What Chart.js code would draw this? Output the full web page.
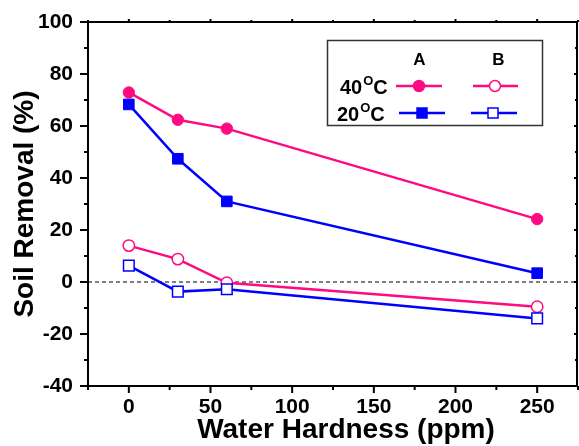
<!DOCTYPE html>
<html>
<head>
<meta charset="utf-8">
<script src="https://cdn.jsdelivr.net/npm/chart.js@4.4.1/dist/chart.umd.min.js"></script>
<style>
  html, body { margin: 0; padding: 0; background: #fff; overflow: hidden; }
  #wrap { width: 579px; height: 446px; position: relative; }
  canvas { display: block; }
</style>
</head>
<body>
<div id="wrap"><canvas id="chart"></canvas></div>
<script>
// Water hardness (ppm) and soil removal (%)
const hardness = [0, 30, 60, 250];
const removalA40 = [72.9, 62.4, 59.0, 24.2];
const removalA20 = [68.3, 47.4, 31.0, 3.4];
const removalB40 = [14.0, 8.8, -0.3, -9.5];
const removalB20 = [6.3, -3.7, -2.8, -14.0];

const xTickValues = [0, 50, 100, 150, 200, 250];
const yTickValues = [-40, -20, 0, 20, 40, 60, 80, 100];

const PINK = "#ff0a80";
const BLUE = "#0000ff";
const FONT = "'Liberation Sans', Arial, sans-serif";

Chart.defaults.font.family = FONT;
Chart.defaults.font.weight = "bold";
Chart.defaults.color = "#000";

function points(ys) {
    return hardness.map((x, i) => ({ x: x, y: ys[i] }));
}

function series(label, ys, color, style, filled) {
    return {
        label: label,
        data: points(ys),
        borderColor: color,
        backgroundColor: color,
        borderWidth: 2.5,
        pointStyle: style,
        pointRadius: style === "rect" ? 7.5 : 5.7,
        pointBorderWidth: filled ? 1 : 1.5,
        pointBackgroundColor: filled ? color : "#fff",
        pointBorderColor: color,
        showLine: true,
        tension: 0,
    };
}

// frame, tick marks, zero line, x title and the legend box
const decorations = {
    id: "decorations",
    beforeDatasetsDraw(chart) {
        const { ctx, chartArea: a } = chart;
        const y0 = chart.scales.y.getPixelForValue(0);
        ctx.save();
        ctx.strokeStyle = "#000";
        ctx.lineWidth = 1;
        ctx.setLineDash([4, 3]);
        ctx.beginPath();
        ctx.moveTo(a.left, y0);
        ctx.lineTo(a.right, y0);
        ctx.stroke();
        ctx.restore();
    },
    afterDraw(chart) {
        const { ctx, chartArea: a } = chart;
        const xs = chart.scales.x, ys = chart.scales.y;
        ctx.save();
        ctx.strokeStyle = "#000";
        ctx.lineWidth = 2;
        ctx.strokeRect(a.left, a.top, a.right - a.left - 1, a.bottom - a.top);

        ctx.beginPath();
        for (let v = -25; v <= 275; v += 25) {
            const px = xs.getPixelForValue(v);
            const major = v % 50 === 0;
            ctx.moveTo(px, a.bottom);
            ctx.lineTo(px, a.bottom + (major ? 7 : 4));
            ctx.moveTo(px, a.top);
            ctx.lineTo(px, a.top - (major ? 3 : 2));
        }
        for (let v = -40; v <= 100; v += 10) {
            const py = ys.getPixelForValue(v);
            const major = v % 20 === 0;
            ctx.moveTo(a.left, py);
            ctx.lineTo(a.left - (major ? 8 : 4), py);
            ctx.moveTo(a.right - 1, py);
            ctx.lineTo(a.right - 1 - (major ? 3 : 2), py);
        }
        ctx.stroke();

        // x axis title
        ctx.fillStyle = "#000";
        ctx.font = "bold 28px " + FONT;
        ctx.textAlign = "center";
        ctx.textBaseline = "alphabetic";
        ctx.fillText("Water Hardness (ppm)", 346, 438);

        // legend
        ctx.lineWidth = 1.5;
        ctx.strokeStyle = "#333";
        ctx.strokeRect(327.5, 40.5, 215, 85);

        ctx.font = "bold 17px " + FONT;
        ctx.textBaseline = "middle";
        ctx.fillText("A", 419.5, 60);
        ctx.fillText("B", 498.5, 60);

        const rows = [
            { t: "40", y: 86, color: PINK, style: "circle", a: [396, 442, 419], b: [473, 518, 495] },
            { t: "20", y: 113, color: BLUE, style: "rect", a: [399, 445, 422], b: [471, 517, 493] },
        ];
        rows.forEach(r => {
            ctx.fillStyle = "#000";
            ctx.textAlign = "left";
            ctx.textBaseline = "alphabetic";
            ctx.font = "bold 20px " + FONT;
            const x0 = r.t === "40" ? 340 : 337;
            ctx.fillText(r.t, x0, r.y + 7.5);
            const w = ctx.measureText(r.t).width;
            ctx.font = "bold 13px " + FONT;
            ctx.fillText("O", x0 + w + 1, r.y - 1.5);
            const wo = ctx.measureText("O").width;
            ctx.font = "bold 20px " + FONT;
            ctx.fillText("C", x0 + w + wo + 1, r.y + 7.5);

            [[r.a, true], [r.b, false]].forEach(([seg, filled]) => {
                ctx.strokeStyle = r.color;
                ctx.lineWidth = 2.5;
                ctx.beginPath();
                ctx.moveTo(seg[0], r.y);
                ctx.lineTo(seg[1], r.y);
                ctx.stroke();
                ctx.fillStyle = filled ? r.color : "#fff";
                ctx.lineWidth = 1.5;
                ctx.beginPath();
                if (r.style === "circle") {
                    ctx.arc(seg[2], r.y, 5.5, 0, Math.PI * 2);
                } else {
                    ctx.rect(seg[2] - 5, r.y - 5, 10, 10);
                }
                ctx.fill();
                ctx.stroke();
            });
        });
        ctx.restore();
    }
};

new Chart(document.getElementById("chart"), {
    type: "scatter",
    data: {
        datasets: [
            series("20°C B", removalB20, BLUE, "rect", false),
            series("40°C B", removalB40, PINK, "circle", false),
            series("20°C A", removalA20, BLUE, "rect", true),
            series("40°C A", removalA40, PINK, "circle", true),
        ],
    },
    options: {
        responsive: true,
        maintainAspectRatio: false,
        animation: false,
        // autoPadding would reserve room for the point radius on the right
        layout: { autoPadding: false, padding: { top: 22, right: 1, left: 0, bottom: 0 } },
        plugins: {
            legend: { display: false },
            tooltip: { enabled: false },
        },
        scales: {
            x: {
                type: "linear",
                min: -25,
                max: 275,
                afterBuildTicks: scale => { scale.ticks = xTickValues.map(v => ({ value: v })); },
                afterFit: scale => {
                    scale.height = 60;
                    scale.paddingLeft = 0;
                    scale.paddingRight = 0;
                },
                grid: { display: false, drawTicks: false },
                border: { display: false },
                ticks: { font: { size: 21, weight: "bold" }, padding: 9, maxRotation: 0 },
            },
            y: {
                min: -40,
                max: 100,
                afterBuildTicks: scale => { scale.ticks = yTickValues.map(v => ({ value: v })); },
                afterFit: scale => {
                    scale.width = 88;
                    scale.paddingTop = 0;
                    scale.paddingBottom = 0;
                },
                grid: { display: false, drawTicks: false },
                border: { display: false },
                ticks: { font: { size: 21, weight: "bold" }, padding: 15 },
                title: {
                    display: true,
                    text: "Soil Removal (%)",
                    font: { size: 28, weight: "bold" },
                    padding: { top: 8.5, bottom: 0 },
                },
            },
        },
    },
    plugins: [decorations],
});
</script>
</body>
</html>
